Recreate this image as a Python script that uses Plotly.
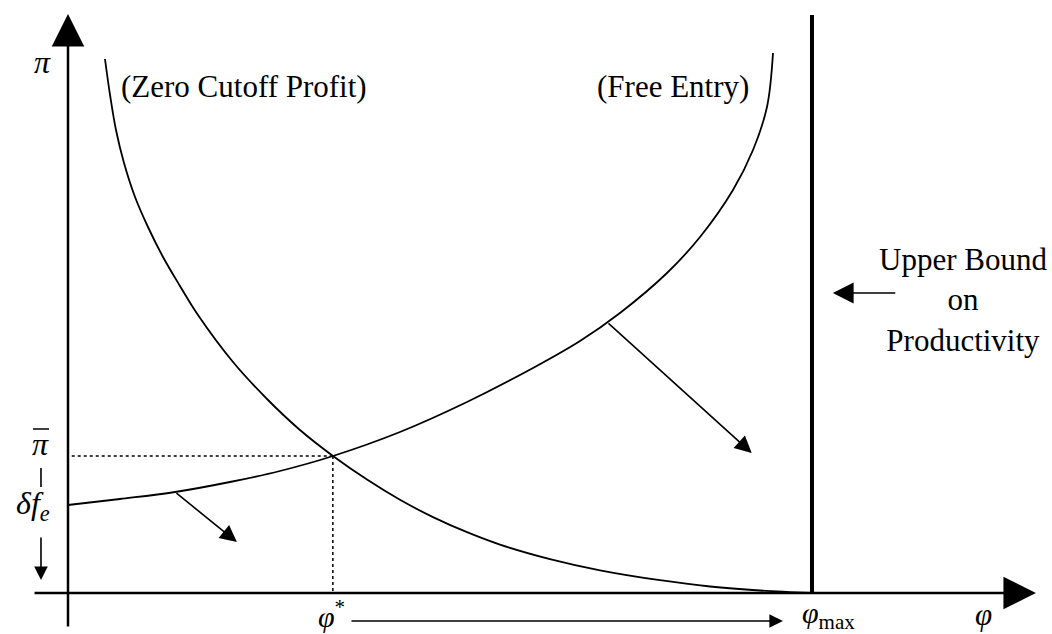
import plotly.graph_objects as go

# ---- data (conceptual units: phi horizontally, pi vertically) ----
PHI_MAX = 10.0      # upper bound on productivity
PHI_STAR = 3.56     # equilibrium cutoff
PI_BAR = 2.74       # equilibrium average profit
DELTA_FE = 1.76     # delta * f_e (free entry intercept)

# Zero Cutoff Profit curve
phi_zcp = [0.497, 0.565, 0.645, 0.753, 0.901, 1.075, 1.277, 1.505, 1.747, 2.218,
           2.675, 3.118, 3.562, 4.019, 4.462, 4.906, 5.363, 5.806, 6.478, 7.151,
           7.957, 8.629, 9.301, 10.0]
pi_zcp = [10.68, 9.96, 9.26, 8.60, 7.92, 7.32, 6.72, 6.14, 5.56, 4.62,
          3.88, 3.26, 2.74, 2.268, 1.864, 1.518, 1.216, 0.968, 0.678, 0.454,
          0.256, 0.13, 0.05, 0.0]

# Free Entry curve
phi_fe = [0.0, 0.699, 1.438, 2.177, 2.849, 3.562, 4.462, 5.363, 6.250, 6.882,
          7.419, 8.051, 8.495, 8.938, 9.207, 9.395, 9.476]
pi_fe = [1.76, 1.88, 2.02, 2.22, 2.44, 2.74, 3.22, 3.82, 4.50, 5.04,
         5.60, 6.40, 7.12, 8.06, 8.86, 9.72, 10.80]

# axis extents
X_RANGE = [-0.914, 13.226]
Y_RANGE = [-0.82, 11.86]

FONT = "Liberation Serif"
BLACK = "#000000"

fig = go.Figure()

fig.add_trace(go.Scatter(x=phi_zcp, y=pi_zcp, mode="lines",
                         line=dict(color=BLACK, width=1.8, shape="spline", smoothing=1.0),
                         hoverinfo="skip", showlegend=False))
fig.add_trace(go.Scatter(x=phi_fe, y=pi_fe, mode="lines",
                         line=dict(color=BLACK, width=1.8, shape="spline", smoothing=1.0),
                         hoverinfo="skip", showlegend=False))

# dotted guides
fig.add_trace(go.Scatter(x=[0.05, PHI_STAR], y=[PI_BAR, PI_BAR], mode="lines",
                         line=dict(color=BLACK, width=1.5, dash="dot"),
                         hoverinfo="skip", showlegend=False))
fig.add_trace(go.Scatter(x=[PHI_STAR, PHI_STAR], y=[PI_BAR, 0], mode="lines",
                         line=dict(color=BLACK, width=1.5, dash="dot"),
                         hoverinfo="skip", showlegend=False))
# upper bound line
fig.add_trace(go.Scatter(x=[PHI_MAX, PHI_MAX], y=[0, 11.56], mode="lines",
                         line=dict(color=BLACK, width=4),
                         hoverinfo="skip", showlegend=False))

annotations = []

def arrow(x0, y0, x1, y1, width, size, head=2):
    annotations.append(dict(x=x1, y=y1, ax=x0, ay=y0, xref="x", yref="y",
                            axref="x", ayref="y", text="", showarrow=True,
                            arrowhead=head, arrowsize=size, arrowwidth=width,
                            arrowcolor=BLACK, standoff=0))

def label(x, y, text, size=31, xanchor="center", yanchor="middle", align="center"):
    annotations.append(dict(x=x, y=y, xref="x", yref="y", text=text, showarrow=False,
                            font=dict(family=FONT, size=size, color=BLACK),
                            xanchor=xanchor, yanchor=yanchor, align=align))

# axes with arrowheads
arrow(0, -0.70, 0, 11.58, 2.5, 2.6)
arrow(-0.47, 0, 13.01, 0, 2.5, 2.6)

# shift arrows
arrow(1.438, 2.02, 2.27, 1.02, 1.6, 2.1)
arrow(7.245, 5.42, 9.19, 2.80, 1.6, 2.1)
arrow(11.14, 6.0, 10.28, 6.0, 1.6, 2.6)
arrow(3.79, -0.56, 9.61, -0.56, 1.6, 1.7)
arrow(-0.363, 1.14, -0.363, 0.26, 1.6, 1.7)

# labels
label(-0.349, 10.62, "<i>π</i>", size=32)
label(-0.363, 2.98, "<i>π</i>", size=32)
label(-0.47, 1.76, "<i>δf</i><sub><i>e</i></sub>", size=32)
label(3.535, -0.42, "<i>φ</i><sup>*</sup>", size=30)
label(9.84, -0.44, "<i>φ</i><sub>max</sub>", size=30, xanchor="left")
label(12.30, -0.42, "<i>φ</i>", size=31)
label(2.36, 10.14, "(Zero Cutoff Profit)")
label(8.13, 10.14, "(Free Entry)")
label(12.03, 5.86, "Upper Bound<br>on<br>Productivity")

shapes = [
    # bar over pi
    dict(type="line", xref="x", yref="y", x0=-0.47, x1=-0.255, y0=3.28, y1=3.28,
         line=dict(color=BLACK, width=1.5)),
    # short tick between pi-bar and delta f_e
    dict(type="line", xref="x", yref="y", x0=-0.363, x1=-0.363, y0=2.50, y1=2.12,
         line=dict(color=BLACK, width=1.6)),
]

fig.update_layout(
    width=1052, height=634,
    margin=dict(l=0, r=0, t=0, b=0),
    paper_bgcolor="white", plot_bgcolor="white",
    xaxis=dict(range=X_RANGE, visible=False, fixedrange=True),
    yaxis=dict(range=Y_RANGE, visible=False, fixedrange=True),
    annotations=annotations, shapes=shapes,
    showlegend=False,
)

fig.write_html("out.html", config={"displayModeBar": False},
               post_script="document.body.style.margin='0px';")
